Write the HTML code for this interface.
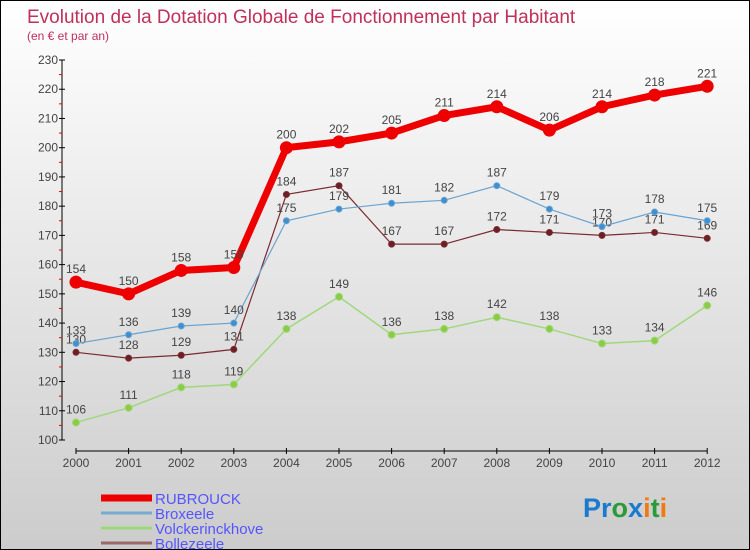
<!DOCTYPE html>
<html><head><meta charset="utf-8"><style>
body{margin:0}
#wrap{width:748px;height:548px;border:1px solid #000;background:linear-gradient(#fff,#ccc);position:relative;overflow:hidden;font-family:"Liberation Sans",sans-serif}
</style></head><body>
<div id="wrap">
<svg id="chart" width="748" height="548" style="position:absolute;left:0;top:0"></svg>
</div>
<script>
const years=["2000","2001","2002","2003","2004","2005","2006","2007","2008","2009","2010","2011","2012"];
const rubrouck=[154,150,158,159,200,202,205,211,214,206,214,218,221];
const broxeele=[133,136,139,140,175,179,181,182,187,179,173,178,175];
const volckerinckhove=[106,111,118,119,138,149,136,138,142,138,133,134,146];
const bollezeele=[130,128,129,131,184,187,167,167,172,171,170,171,169];
const yTicks=[100,110,120,130,140,150,160,170,180,190,200,210,220,230];
const NS="http://www.w3.org/2000/svg";
const svg=document.getElementById('chart');
function X(i){return 75+i*52.6;}
function Y(v){return 439-(v-100)*(380/130);}
function el(t,a,p){const e=document.createElementNS(NS,t);for(const k in a)e.setAttribute(k,a[k]);(p||svg).appendChild(e);return e;}
let t=el('text',{x:26,y:22,fill:'#c0305a','font-size':19});t.textContent='Evolution de la Dotation Globale de Fonctionnement par Habitant';

t=el('text',{x:26,y:39,fill:'#c0305a','font-size':12});t.textContent='(en € et par an)';

// y axis
let a=el('line',{x1:61,y1:Y(230),x2:61,y2:Y(100),stroke:'#000'});

yTicks.forEach((v,i)=>{
 el('line',{x1:58,x2:64,y1:Y(v),y2:Y(v),stroke:'#000'});
 if(i<yTicks.length-1)el('line',{x1:58,x2:61,y1:Y(v+5),y2:Y(v+5),stroke:'#e00'});
 const tt=el('text',{x:57,y:Y(v)+4,'text-anchor':'end','font-size':12,fill:'#444'});tt.textContent=v;
 
});
a=el('line',{x1:X(0),x2:X(12),y1:450,y2:450,stroke:'#000'});

years.forEach((y,i)=>{
 el('line',{x1:X(i),x2:X(i),y1:447,y2:453,stroke:'#000'});
 const tt=el('text',{x:X(i),y:466,'text-anchor':'middle','font-size':12,fill:'#444'});tt.textContent=y;
 
});
function series(d,color,dot,w,r,name){
 const g=el('g',{});
 
 el('polyline',{points:d.map((v,i)=>X(i)+','+Y(v)).join(' '),fill:'none',stroke:color,'stroke-width':w},g);
 d.forEach((v,i)=>{
  const c=el('circle',{cx:X(i),cy:Y(v),r:r,fill:dot,stroke:color,'stroke-width':1},g);
  
  const tt=el('text',{x:X(i),y:Y(v)-9,'text-anchor':'middle','font-size':12,fill:'#444'},g);tt.textContent=v;
  
 });
}
series(volckerinckhove,'#9fd87a','#8ccc44',1.5,3.5,'volckerinckhove');
series(bollezeele,'#7a2a30','#6b2026',1.2,3,'bollezeele');
series(broxeele,'#6aa3d0','#3d8fd0',1.2,3,'broxeele');
series(rubrouck,'#ee0000','#ee0000',7,6,'rubrouck');
const leg=[['RUBROUCK','#ee0000',7],['Broxeele','#7aaad0',3],['Volckerinckhove','#9fd87a',3],['Bollezeele','#9a6a6a',3]];
leg.forEach((l,i)=>{
 const yy=497+i*15;
 const g=el('g',{});
 
 el('line',{x1:100,x2:151,y1:yy,y2:yy,stroke:l[1],'stroke-width':l[2]},g);
 const tt=el('text',{x:154,y:yy+6,'font-size':15,fill:'#5555ff'},g);tt.textContent=l[0];
});
const logo=el('text',{x:582,y:516,'font-size':27,'font-weight':'bold'});

[['Pr','#1a7ad0'],['o','#2a9a3a'],['x','#1a7ad0'],['i','#f07a10'],['t','#2a9a3a'],['i','#f07a10']].forEach(p=>{el('tspan',{fill:p[1]},logo).textContent=p[0];});
</script>
</body></html>
